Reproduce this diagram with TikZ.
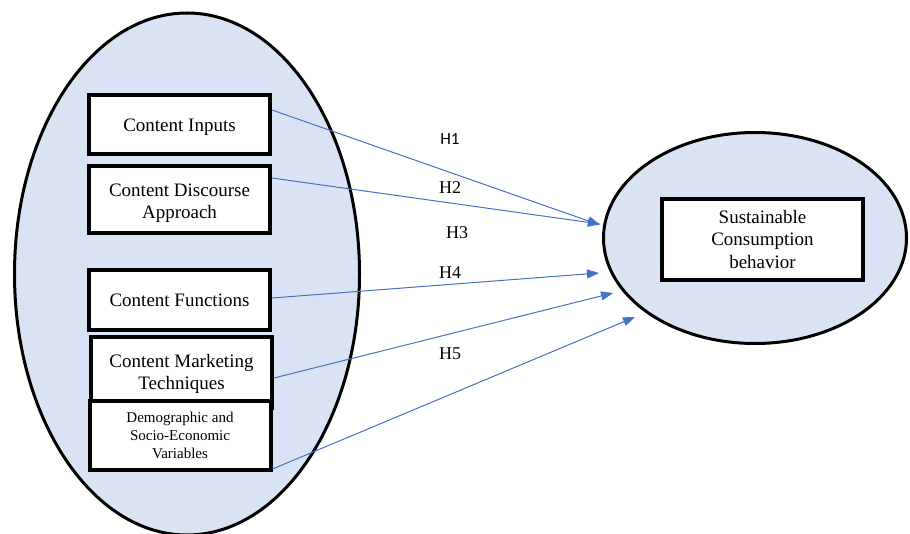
\documentclass[tikz,border=0pt]{standalone}
\usepackage{fontspec}
\setmainfont{Liberation Serif}
\newfontfamily\hsans{Carlito}
\usetikzlibrary{arrows.meta,shapes.geometric,calc}
\definecolor{ellfill}{HTML}{DAE3F3}
\definecolor{arrblue}{HTML}{4472C4}
\newcommand{\lowtext}[2][-2.5pt]{\raisebox{#1}[\height][\depth]{\begin{tabular}{@{}c@{}}#2\end{tabular}}}
\tikzset{
  bigell/.style={ellipse, draw=black, line width=3pt, fill=ellfill, inner sep=0pt},
  varbox/.style={rectangle, draw=black, line width=4pt, fill=white, minimum width=181pt, align=center, inner sep=0pt, font=\fontsize{19}{22}\selectfont},
  hyp/.style={arrblue, line width=1pt, -{Triangle[length=12pt,width=9pt]}},
  hlabel/.style={font=\fontsize{18}{20}\selectfont, inner sep=0pt}
}
\begin{document}
\begin{tikzpicture}[x=1pt,y=-1pt]
\useasboundingbox (0,0) rectangle (910,534);
% left ellipse
\node[bigell, minimum width=345pt, minimum height=522pt] (lell) at (187,274) {};
% boxes
\node[varbox, minimum height=59pt] (b1) at (179.5,124.5) {\lowtext[-3pt]{Content Inputs}};
\node[varbox, minimum height=67pt] (b2) at (179.5,199.5) {\lowtext[-3.5pt]{Content Discourse\\Approach}};
\node[varbox, minimum height=60pt] (b3) at (179.5,300) {\lowtext{Content Functions}};
\node[varbox, minimum height=71pt] (b4) at (181.5,372.5) {\lowtext[-1.5pt]{Content Marketing\\Techniques}};
\node[varbox, minimum height=69pt, font=\fontsize{15}{17.7}\selectfont] (b5) at (180,435.5) {\lowtext[-1.5pt]{Demographic and\\Socio-Economic\\Variables}};
% right ellipse
\node[bigell, minimum width=303pt, minimum height=211pt] (rell) at (755,238) {};
\node[varbox, minimum width=201pt, minimum height=81pt, font=\fontsize{19}{22.5}\selectfont] (out) at (762.5,239.5) {Sustainable\\Consumption\\behavior};
% arrow tips
\coordinate (t1) at (600,225);
\coordinate (t2) at (600,224);
\coordinate (t3) at (599,273);
\coordinate (t4) at (613,293);
\coordinate (t5) at (635,317);
\draw[hyp] ([yshift=14.5pt]b1.east) -- (t1);
\draw[hyp] ([yshift=21.5pt]b2.east) -- (t2);
\draw[hyp] ([yshift=2pt]b3.east) -- (t3);
\draw[hyp] ([yshift=-5.5pt]b4.east) -- (t4);
\draw[hyp] ([yshift=-33.5pt]b5.east) -- (t5);
% labels
\node[hlabel, font=\hsans\fontsize{17}{19}\selectfont] (h1) at (450,139) {H1};
\node[hlabel] (h2) at (450,188) {H2};
\node[hlabel] (h3) at (457,233) {H3};
\node[hlabel] (h4) at (450,273) {H4};
\node[hlabel] (h5) at (450,354) {H5};
\end{tikzpicture}
\end{document}
